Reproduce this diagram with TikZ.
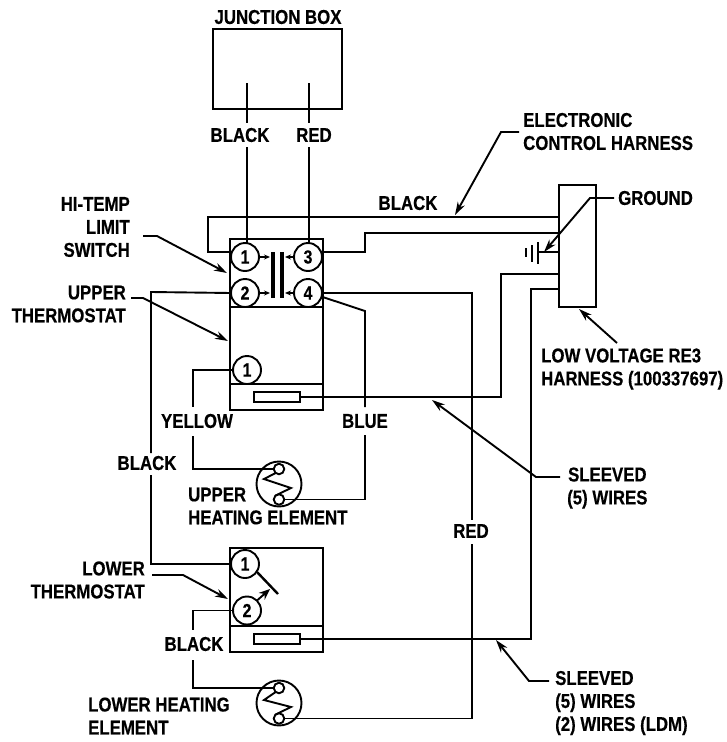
\documentclass[tikz,border=0pt]{standalone}
\usepackage{fontspec}
\setmainfont[FakeStretch=0.84,BoldFeatures={FakeBold=0.4}]{Liberation Sans}
\usetikzlibrary{arrows.meta}

\tikzset{
	wire/.style={line width=1.9pt},
	part/.style={draw,line width=2pt,inner sep=0pt,outer sep=0pt},
	pin/.style={circle,draw,fill=white,line width=1.9pt,minimum size=28pt,inner sep=0pt,outer sep=0pt,font=\bfseries\fontsize{19}{19}\selectfont},
	element/.style={circle,draw,line width=1.9pt,minimum size=45pt,inner sep=0pt,outer sep=0pt},
	tap/.style={circle,draw,line width=1.9pt,minimum size=10.5pt,inner sep=0pt,outer sep=0pt},
	lbl/.style={inner sep=0pt,font=\bfseries\fontsize{20}{23}\selectfont},
	leader/.style={-{Stealth[length=13pt,width=8pt]}},
	tiny tip/.style={line width=1.3pt,-{Stealth[length=6pt,width=5pt]}},
}

\begin{document}
\begin{tikzpicture}[x=1pt,y=-1pt]
	\useasboundingbox (0,0) rectangle (726,742);

	% boxes
	\node[part,minimum width=129pt,minimum height=80pt] (junctionBox) at (277.5,69) {};
	\node[part,minimum width=37pt,minimum height=122pt] (harnessBox) at (577.5,246) {};
	\node[part,minimum width=93pt,minimum height=68pt] (switchBox) at (276.5,273) {};
	\node[part,minimum width=93pt,minimum height=77pt] (upperBox) at (276.5,345.5) {};
	\node[part,minimum width=93pt,minimum height=26pt] (upperBase) at (276.5,397) {};
	\node[part,minimum width=93pt,minimum height=78pt] (lowerBox) at (276.5,587) {};
	\node[part,minimum width=93pt,minimum height=26pt] (lowerBase) at (276.5,639) {};
	\node[part,minimum width=46pt,minimum height=10pt] (upperSensor) at (277,397) {};
	\node[part,minimum width=46pt,minimum height=10pt] (lowerSensor) at (277,639) {};

	% terminals
	\node[pin] (pinOne) at (245,257) {1};
	\node[pin] (pinThree) at (308,257) {3};
	\node[pin] (pinTwo) at (245,293) {2};
	\node[pin] (pinFour) at (308,293) {4};
	\node[pin] (upperPin) at (247,370) {1};
	\node[pin] (lowerPinA) at (245,564) {1};
	\node[pin] (lowerPinB) at (247,610.5) {2};

	% heating elements
	\node[element] (upperElement) at (279,484) {};
	\node[tap] (upperTop) at (279,469) {};
	\node[tap] (upperBot) at (279,499.5) {};
	\draw[wire] (upperTop.-130) -- (264,479) -- (291,488) -- (upperBot.130);
	\node[element] (lowerElement) at (279,703) {};
	\node[tap] (lowerTop) at (279,688) {};
	\node[tap] (lowerBot) at (279,718.5) {};
	\draw[wire] (lowerTop.-130) -- (264,700) -- (291,707) -- (lowerBot.130);

	% labels
	\node[lbl] (junctionLbl) at (278,17) {JUNCTION BOX};
	\node[lbl] (blackTop) at (240,135) {BLACK};
	\node[lbl] (redTop) at (314,135) {RED};
	\node[lbl] (blackHarness) at (408,203) {BLACK};
	\node[lbl,anchor=west,align=left] (controlLbl) at (523,131.5) {ELECTRONIC\\CONTROL HARNESS};
	\node[lbl,anchor=west] (groundLbl) at (618,198) {GROUND};
	\node[lbl,anchor=east,align=right] (switchLbl) at (130,227) {HI-TEMP\\LIMIT\\SWITCH};
	\node[lbl,anchor=east,align=right] (upperLbl) at (126,304) {UPPER\\THERMOSTAT};
	\node[lbl,anchor=west,align=left] (harnessLbl) at (541,369) {LOW VOLTAGE RE3\\HARNESS (100337697)};
	\node[lbl] (yellowLbl) at (197,421) {YELLOW};
	\node[lbl] (blueLbl) at (365,421) {BLUE};
	\node[lbl] (blackLeft) at (147,463) {BLACK};
	\node[lbl,anchor=west,align=left] (upperHeatLbl) at (188,506) {UPPER\\HEATING ELEMENT};
	\node[lbl,anchor=west,align=center] (sleevedUp) at (567,488) {SLEEVED\\(5) WIRES};
	\node[lbl] (redLbl) at (471,531) {RED};
	\node[lbl,anchor=east,align=right] (lowerLbl) at (145,580) {LOWER\\THERMOSTAT};
	\node[lbl] (blackLow) at (194,644) {BLACK};
	\node[lbl,anchor=west,align=left] (lowerHeatLbl) at (88,716) {LOWER HEATING\\ELEMENT};
	\node[lbl,anchor=west,align=left] (sleevedLow) at (555,703) {SLEEVED\\(5) WIRES\\(2) WIRES (LDM)};

	% wire ends and corners
	\coordinate (stubLeft) at (208,252);
	\coordinate (stepRight) at (365,252);
	\coordinate (groundBar) at (538,252);
	\coordinate (redCorner) at (472,293);
	\coordinate (blueCorner) at (365,311);
	\coordinate (sensorUp) at (501,274);
	\coordinate (sensorLow) at (531,289);
	\coordinate (yellowCorner) at (193,370);
	\coordinate (blackCorner) at (151,292);
	\coordinate (blackLowCorner) at (193,610.5);
	\coordinate (groundEnd) at (614,198);

	% junction box wires
	\draw[wire] (247,83) -- (247,123);
	\draw[wire] (247,147) -- (247,243);
	\draw[wire] (309,83) -- (309,123);
	\draw[wire] (309,147) -- (309,243);

	% harness wires
	\draw[wire] (switchBox.west |- stubLeft) -- (stubLeft) |- (harnessBox.west |- 0,217);
	\draw[wire] (switchBox.east |- stepRight) -- (stepRight) |- (harnessBox.west |- 0,233);
	\draw[wire] (harnessBox.west |- groundBar) -- (groundBar);
	\draw[wire] (harnessBox.west |- sensorUp) -- (sensorUp) |- (upperSensor.east);
	\draw[wire] (harnessBox.west |- sensorLow) -- (sensorLow) |- (lowerSensor.east);

	% ground symbol
	\draw[line width=2pt] (538,242) -- (538,264);
	\draw[line width=2pt] (532,245) -- (532,262);
	\draw[line width=2pt] (526,248) -- (526,257);

	% thermostat wires
	\draw[wire] (pinTwo.west) -- (blackCorner) -- (151,453);
	\draw[wire] (151,475) |- (lowerPinA.west);
	\draw[wire] (pinFour.east) -- (redCorner) -- (472,520);
	\draw[wire] (472,544) |- (lowerBot.east);
	\draw[wire] (pinFour.-15) -- (blueCorner) -- (365,407);
	\draw[wire] (365,435) |- (upperBot.east);
	\draw[wire] (upperPin.west) -- (yellowCorner) -- (193,407);
	\draw[wire] (193,436) |- (upperTop.west);
	\draw[wire] (lowerPinB.west) -- (blackLowCorner) -- (193,630);
	\draw[wire] (193,660) |- (lowerTop.west);

	% contacts
	\draw[line width=3.2pt] (273,252) -- (273,298);
	\draw[line width=3.2pt] (282,252) -- (282,298);
	\foreach \y/\a/\b in {257/pinOne/pinThree,293/pinTwo/pinFour} {
		\draw[tiny tip] (\a.east) -- (270,\y);
		\draw[tiny tip] (\b.west) -- (285,\y);
	}

	% switch arm
	\draw[line width=2.4pt] (257,572) -- (278,594);
	\draw[line width=1.9pt,-{Stealth[length=11pt,width=9pt]}] (lowerPinB.45) -- (270,589);

	% leaders
	\draw[wire,leader] (519,132) -- (501,132) -- (455,215);
	\draw[wire,leader] (groundEnd) -- (590,198) -- (544,252);
	\draw[wire,leader] (143,236) -- (157,236) -- (227,273);
	\draw[wire,leader] (131,298) -- (143,298) -- (228,341);
	\draw[wire,leader] (152,575) -- (183,575) -- (228,599);
	\draw[wire,leader] (617,343) -- (579,309);
	\draw[wire,leader] (560,477) -- (536,477) -- (432,400);
	\draw[wire,leader] (549,681) -- (529,681) -- (496,640);
\end{tikzpicture}
\end{document}
